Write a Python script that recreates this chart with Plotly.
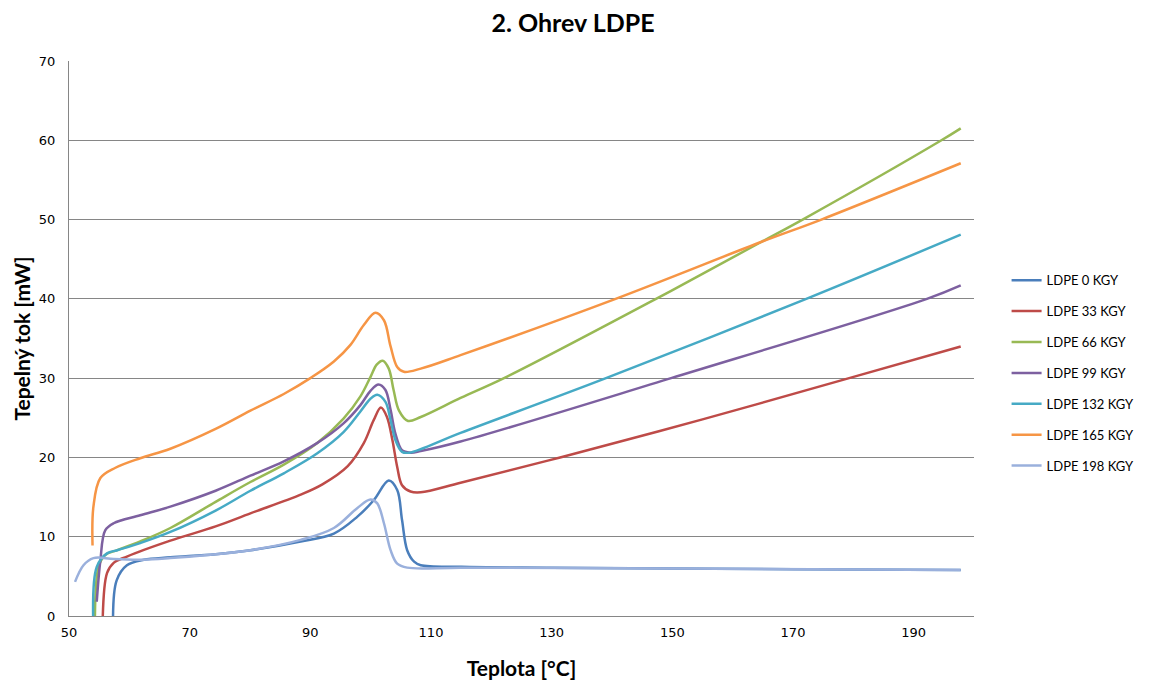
import plotly.graph_objects as go

# ---- data (Teplota [°C], Tepelný tok [mW]) ----
t_0 = [57.3, 57.9, 59.6, 62.4, 66.8, 74.3, 80.07, 88.4, 93.9, 97.76, 100.5, 103.0, 104.4, 105.2, 106.05, 107.2, 108.3, 115, 130, 150, 170, 197.8]
q_0 = [0, 4.5, 6.4, 7.1, 7.4, 7.8, 8.3, 9.4, 10.4, 12.5, 14.6, 17.1, 15.9, 12.1, 8.3, 6.85, 6.4, 6.2, 6.1, 6.0, 5.9, 5.8]

t_33 = [55.6, 56.3, 57.4, 59.6, 66.8, 74.3, 80.07, 88.4, 92.0, 96.2, 98.86, 100.5, 101.7, 102.7, 103.6, 104.4, 105.2, 106.6, 108.3, 114.9, 131.4, 155, 179.3, 197.8]
q_33 = [0, 5.4, 6.7, 7.5, 9.5, 11.3, 12.95, 15.3, 16.6, 18.9, 21.8, 24.7, 26.3, 25.1, 22.2, 18.8, 16.5, 15.7, 15.6, 16.8, 20.0, 24.8, 30.0, 34.0]

t_66 = [54.3, 54.9, 56.0, 58.0, 61.8, 66.8, 74.3, 80.07, 85.6, 91.1, 95.5, 98.3, 100.0, 101.0, 102.0, 103.0, 103.8, 104.7, 106.2, 108.3, 114.9, 122.1, 147.3, 164.8, 171.6, 194.6, 197.8]
q_66 = [0, 6.2, 7.7, 8.3, 9.4, 11.1, 14.4, 16.9, 19.1, 21.8, 24.9, 27.7, 30.2, 31.7, 32.2, 31.2, 28.5, 25.9, 24.6, 25.1, 27.5, 30.0, 40.0, 47.2, 50.0, 60.0, 61.5]

t_99 = [54.6, 55.2, 56.0, 57.4, 61.8, 66.8, 74.3, 80.07, 85.6, 91.1, 95.5, 98.3, 99.97, 101.3, 102.45, 103.3, 104.1, 105.2, 106.6, 108.3, 114.9, 149.8, 192.2, 197.8]
q_99 = [1.8, 7.0, 10.8, 11.7, 12.7, 13.8, 15.8, 17.7, 19.5, 21.8, 24.3, 26.6, 28.4, 29.2, 28.5, 26.0, 23.0, 20.9, 20.6, 20.8, 22.0, 30.0, 40.0, 41.7]

t_132 = [54.0, 54.6, 56.3, 58.0, 61.8, 66.8, 74.3, 80.07, 85.6, 91.1, 95.5, 98.3, 99.97, 101.1, 102.45, 103.3, 104.1, 105.2, 106.4, 114.9, 139, 172.2, 197.8]
q_132 = [0, 6.2, 7.9, 8.3, 9.2, 10.6, 13.3, 15.8, 18.0, 20.5, 23.2, 25.8, 27.4, 27.9, 27.0, 24.7, 22.2, 20.7, 20.6, 23.1, 30.0, 40.0, 48.1]

t_165 = [53.9, 54.05, 55.2, 57.7, 61.8, 66.8, 74.3, 80.07, 85.6, 90.0, 93.9, 96.65, 98.86, 100.8, 102.2, 103.3, 104.4, 105.5, 108.3, 114.9, 140.6, 164.8, 174.7, 197.8]
q_165 = [8.9, 13.8, 17.4, 18.7, 19.9, 21.1, 23.6, 25.9, 28.0, 30.0, 32.1, 34.2, 36.7, 38.25, 37.3, 34.0, 31.4, 30.8, 31.2, 32.9, 40.0, 47.2, 50.0, 57.1]

t_198 = [51.0, 52.4, 54.05, 57.4, 62.4, 66.8, 74.3, 80.07, 88.4, 93.9, 97.76, 99.97, 101.1, 102.2, 103.3, 104.4, 106.05, 115, 150, 197.8]
q_198 = [4.3, 6.4, 7.3, 7.2, 7.1, 7.3, 7.8, 8.3, 9.6, 11.1, 13.6, 14.7, 14.2, 11.7, 8.3, 6.6, 6.1, 6.1, 6.0, 5.8]

names = ["LDPE 0 KGY", "LDPE 33 KGY", "LDPE 66 KGY", "LDPE 99 KGY",
         "LDPE 132 KGY", "LDPE 165 KGY", "LDPE 198 KGY"]
colors = ["#4A7EBB", "#BE4B48", "#98B954", "#7D60A0", "#46AAC5", "#F69545", "#9AB0DC"]
series_t = [t_0, t_33, t_66, t_99, t_132, t_165, t_198]
series_q = [q_0, q_33, q_66, q_99, q_132, q_165, q_198]

x_ticks = [50, 70, 90, 110, 130, 150, 170, 190]
y_ticks = [0, 10, 20, 30, 40, 50, 60, 70]

W, H = 1146, 673  # page body has an 8px margin

fig = go.Figure()
for i, (n, c, tx, qy) in enumerate(zip(names, colors, series_t, series_q)):
    fig.add_trace(go.Scatter(
        x=tx, y=qy, name=n, mode="lines",
        line=dict(color=c, width=2.5, shape="spline", smoothing=1.0),
        legendgroup=f"g{i}",
    ))

fig.update_layout(
    width=W, height=H,
    paper_bgcolor="white", plot_bgcolor="white",
    margin=dict(l=61, r=180, t=53, b=65, autoexpand=False),
    title=dict(text="<b>2. Ohrev LDPE</b>", x=(573 - 8) / W, xanchor="center",
               y=1 - 15 / H, yanchor="middle",
               font=dict(family="Lato", size=25, color="black")),
    font=dict(family="DejaVu Sans", size=13, color="black"),
    legend=dict(x=1.036, xanchor="left", y=0.632, yanchor="top",
                font=dict(family="Lato", size=13, color="black"),
                tracegroupgap=11, itemwidth=30, bgcolor="rgba(0,0,0,0)"),
    showlegend=True,
)
fig.update_xaxes(
    range=[50, 200], tickvals=x_ticks, ticktext=[str(v) for v in x_ticks],
    showgrid=False, zeroline=False, showline=True, linecolor="#868686", linewidth=1,
    ticks="", ticklabelstandoff=4, automargin=False,
    tickfont=dict(family="DejaVu Sans", size=13),
    title=dict(text="<b>Teplota [°C]</b>", font=dict(family="Lato", size=21), standoff=22),
)
fig.update_yaxes(
    range=[0, 70], tickvals=y_ticks, ticktext=[str(v) for v in y_ticks],
    showgrid=True, gridcolor="#868686", gridwidth=1,
    zeroline=False, showline=True, linecolor="#868686", linewidth=1,
    ticks="", ticklabelstandoff=10, automargin=False,
    tickfont=dict(family="DejaVu Sans", size=13),
    title=dict(text="<b>Tepelný tok [mW]</b>", font=dict(family="Lato", size=21), standoff=2),
)

fig.write_html("out.html")
